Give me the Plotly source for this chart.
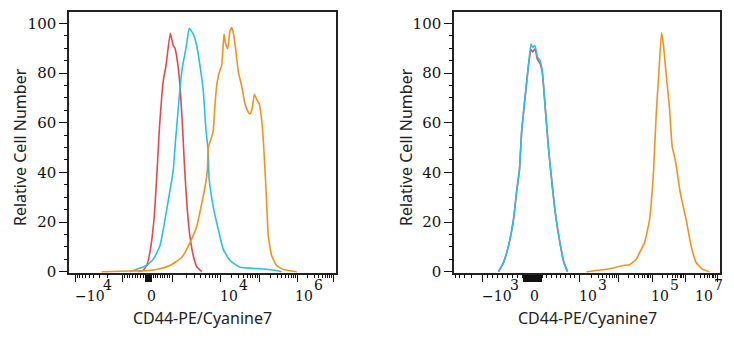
import math
import plotly.graph_objects as go

# ---------------- data (x in display units of the biexponential axis, y = relative cell number)
# Left panel
red_l_x = [69, 74, 77.7, 81, 85, 88, 90.3, 94.3, 97, 101.3, 104.3, 106, 108.3, 111, 113.7, 115.3, 116.3, 118.3, 121, 124.3, 127.7, 132.7]
red_l_y = [0, 0.5, 2.5, 8, 21, 40, 57, 77, 83, 96, 91, 90, 85, 75, 57, 44, 37, 25, 14, 6.4, 2, 0]

blue_l_x = [61, 67.7, 77.7, 84.3, 91, 96, 101, 104.3, 106, 109.3, 111, 113.7, 117, 120.3, 124.3, 127.7, 131, 134.3, 137, 139.3, 140, 144.3, 149.3, 154.3, 161, 171, 191, 207.7, 212.7]
blue_l_y = [0, 1, 2.5, 5, 10.4, 21, 32.7, 41, 50, 66, 74, 83, 90, 98, 95.7, 91, 83, 72.7, 57, 48, 38, 26, 17, 9, 4.5, 1.8, 1.2, 0.5, 0]

orange_l_x = [32.7, 61, 77.7, 91, 101, 112.7, 121, 127.7, 132.7, 136, 138.3, 139.3, 142.7, 144.3, 146, 148.3, 151, 152.7, 155, 156.5, 158.7, 161, 162.7, 164.3, 167, 169.3, 172.7, 176, 179.3, 181, 183.3, 185.3, 187.7, 190.3, 192.7, 194.3, 196, 197.7, 199.3, 202.7, 207.7, 214.3, 227.7]
orange_l_y = [0, 0.3, 0.4, 1.2, 2.5, 5.7, 11.7, 18.2, 27.4, 34, 40.5, 50, 54.3, 57, 67.5, 76.6, 81.2, 83, 95.7, 92, 89.8, 97, 98.3, 96.3, 88.5, 80.6, 74.7, 67.5, 64.2, 63.5, 66, 71.4, 69.4, 67.5, 60.9, 53, 41, 27.4, 14.3, 6.4, 2.5, 0.9, 0]

# Right panel
blue_r_x = [44.7, 49.7, 54.7, 59.7, 63, 65.7, 68, 71.3, 74.7, 77.3, 79, 81.3, 83.7, 86.3, 88.7, 91.3, 94.7, 97, 101.3, 106.3, 110.3, 114]
blue_r_y = [0, 3.7, 10.4, 21, 32.7, 41, 57, 70, 83, 91.7, 90.4, 91, 86.5, 85, 80.5, 67.5, 50.4, 41, 24.8, 11.7, 3.7, 0]
red_r_x = blue_r_x
red_r_y = [0, 3.7, 10.4, 21, 32.7, 41, 57, 70, 83, 89.5, 88.5, 89.8, 85.5, 84, 80, 67.5, 50.4, 41, 24.8, 11.7, 3.7, 0]

orange_r_x = [133, 156.3, 169.7, 176.3, 183, 186.3, 191.3, 196.3, 199, 200.3, 203, 205.7, 208.3, 210.3, 213, 216.3, 219, 221.3, 223.7, 224.7, 228, 233, 238, 243, 249.7, 256.3]
orange_r_y = [0, 1.2, 2.5, 2.8, 5, 7.7, 11.7, 21, 32.7, 40.5, 63.5, 80.6, 96.3, 91, 79.3, 66, 50.4, 46.5, 41.2, 38, 30, 21, 10.4, 3.7, 0.9, 0]

# axis decades (display units) for each panel: exponent -> position
left_decades = {-4: 6, -3: 53, 0: 79.5, 3: 103, 4: 151, 5: 190, 6: 228, 7: 264}
right_decades = {-4: -10, -3: 29, 0: 79, 3: 126, 4: 165, 5: 199, 6: 232, 7: 264}

# tick labels: (base, exponent, position)
left_labels = [("\u221210", "4", 4), ("0", "", 82), ("10", "4", 149), ("10", "6", 224)]
right_labels = [("\u221210", "3", 26), ("0", "", 81), ("10", "3", 123), ("10", "5", 196), ("10", "7", 240)]

y_major = [0, 20, 40, 60, 80, 100]
y_minor = [v for v in range(0, 105, 5) if v % 20]

RED = "#e8474c"
BLUE = "#25c1ee"
ORANGE = "#f4921c"
XMAX = 267
YR = [-0.5, 104.7]


def tick_sets(dec, zero_block):
    major = [dec[k] for k in (-4, -3, 3, 4, 5, 6, 7)]
    z = dec[0]
    lo, hi = zero_block
    b = lo
    while b <= hi + 1e-9:
        major.append(z + b)
        b += 0.5
    minor = []
    for m in range(2, 10):
        minor.append(dec[-3] - (dec[-3] - dec[-4]) * math.log10(m))
    for m in range(1, 10):
        minor.append(z + (dec[3] - z) * m / 10)
        minor.append(z - (z - dec[-3]) * m / 10)
    for a, b2 in ((3, 4), (4, 5), (5, 6), (6, 7)):
        for m in range(2, 10):
            minor.append(dec[a] + (dec[b2] - dec[a]) * math.log10(m))
    major = [v for v in major if 0 <= v <= XMAX]
    minor = [v for v in minor if 0 <= v <= XMAX]
    return major, minor


lmaj, lmin = tick_sets(left_decades, (-3.5, 2.5))
rmaj, rmin = tick_sets(right_decades, (-9, 9))

fig = go.Figure()
# invisible traces so the minor-tick overlay axes get drawn
for xa, ya in (("x3", "y3"), ("x4", "y4")):
    fig.add_trace(go.Scatter(x=[1], y=[-50], mode="markers", marker=dict(size=1, opacity=0),
                             xaxis=xa, yaxis=ya, showlegend=False, hoverinfo="skip"))

for x, y, c, ax in [
    (red_l_x, red_l_y, RED, 1), (blue_l_x, blue_l_y, BLUE, 1), (orange_l_x, orange_l_y, ORANGE, 1),
    (red_r_x, red_r_y, RED, 2), (blue_r_x, blue_r_y, BLUE, 2), (orange_r_x, orange_r_y, ORANGE, 2),
]:
    fig.add_trace(go.Scatter(x=x, y=y, mode="lines", line=dict(color=c, width=1.6, shape="spline", smoothing=0.4),
                             xaxis="x" if ax == 1 else "x2", yaxis="y" if ax == 1 else "y2",
                             showlegend=False, hoverinfo="skip"))

W, H = 734, 350
ydom = [1 - 279.3 / H, 1 - 12 / H]
LDOM = [69 / W, 336 / W]
RDOM = [454 / W, 720 / W]
TICKC = "#111"


def xaxis(dom, maj, anchor):
    return dict(domain=dom, range=[0, XMAX], showgrid=False, zeroline=False, showline=True,
                linecolor="#222", linewidth=1.5, mirror=True, ticks="outside", tickvals=maj,
                ticklen=7, tickwidth=1.2, tickcolor=TICKC, showticklabels=False, anchor=anchor,
                fixedrange=True)


def xminor(dom, mn, over, anchor):
    return dict(domain=dom, range=[0, XMAX], overlaying=over, anchor=anchor, showgrid=False,
                zeroline=False, showline=False, ticks="outside", tickmode="array", tickvals=mn,
                ticklen=4, tickwidth=1, tickcolor=TICKC, showticklabels=False, fixedrange=True)


def yaxis(anchor):
    return dict(domain=ydom, range=YR, showgrid=False, zeroline=False, showline=True,
                linecolor="#222", linewidth=1.5, mirror=True, ticks="outside", tickvals=y_major,
                ticklen=8, tickwidth=1.2, tickcolor=TICKC, anchor=anchor,
                tickfont=dict(family="DejaVu Serif", size=15, color="#111"), fixedrange=True)


def yminor(over, anchor):
    return dict(domain=ydom, range=YR, overlaying=over, anchor=anchor, showgrid=False, zeroline=False,
                showline=False, ticks="outside", tickmode="array", tickvals=y_minor, ticklen=4,
                tickwidth=1, tickcolor=TICKC, showticklabels=False, fixedrange=True)


ann = []
LF = dict(family="DejaVu Serif", size=14, color="#111")
for labels, xr in ((left_labels, "x"), (right_labels, "x2")):
    for base, exp, pos in labels:
        if exp == "":
            ann.append(dict(x=pos, xref=xr, y=1 - 302.5 / H, yref="paper", text=base, showarrow=False,
                            xanchor="center", yanchor="middle", font=LF))
        else:
            ann.append(dict(x=pos, xref=xr, y=1 - 302.5 / H, yref="paper", text=base, showarrow=False,
                            xanchor="left", yanchor="middle", font=LF))
            shift = 28 if base.startswith("\u2212") else 19
            ann.append(dict(x=pos, xref=xr, y=1 - 291.5 / H, yref="paper", text=exp, showarrow=False, xshift=shift,
                            xanchor="left", yanchor="middle", font=LF))

for xc in (19.5, 405.5):
    ann.append(dict(x=xc / W, y=1 - 151 / H, xref="paper", yref="paper", text="Relative Cell Number",
                    textangle=-90, showarrow=False, xanchor="center", yanchor="middle",
                    font=dict(family="Noto Sans", size=16, color="#222")))
for xc in (202.5, 587):
    ann.append(dict(x=xc / W, y=1 - 325 / H, xref="paper", yref="paper", text="CD44-PE/Cyanine7",
                    showarrow=False, xanchor="center", yanchor="middle",
                    font=dict(family="Noto Sans", size=16, color="#222")))

fig.update_layout(
    width=W, height=H, margin=dict(l=0, r=0, t=0, b=0),
    paper_bgcolor="white", plot_bgcolor="white",
    xaxis=xaxis(LDOM, lmaj, "y"),
    xaxis2=xaxis(RDOM, rmaj, "y2"),
    xaxis3=xminor(LDOM, lmin, "x", "y3"),
    xaxis4=xminor(RDOM, rmin, "x2", "y4"),
    yaxis=yaxis("x"), yaxis2=yaxis("x2"),
    yaxis3=yminor("y", "x3"), yaxis4=yminor("y2", "x4"),
    annotations=ann,
)
fig.write_html("out.html")
